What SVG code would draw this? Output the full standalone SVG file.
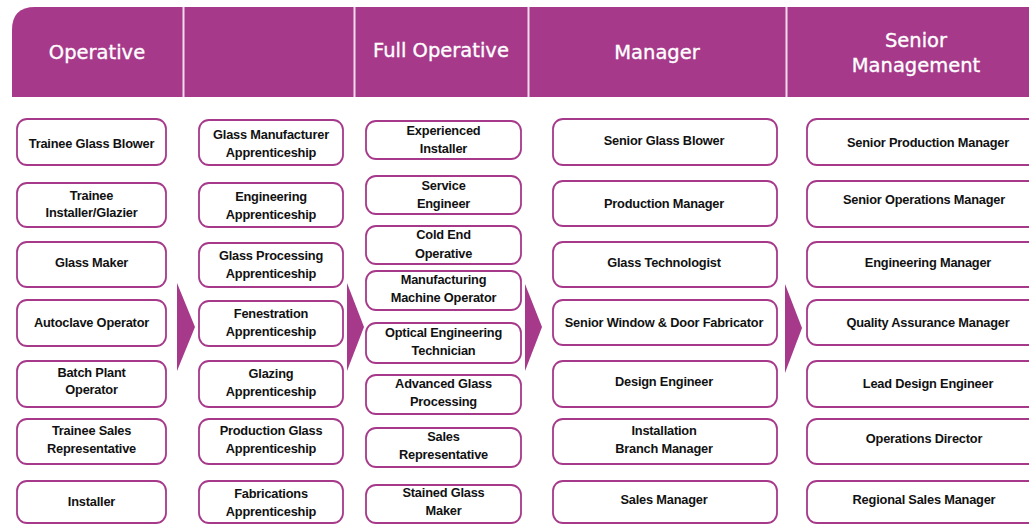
<svg xmlns="http://www.w3.org/2000/svg" width="1029" height="525" viewBox="0 0 1029 525">
<style>
.hd{fill:#a6398a}
.div{fill:#f3dcec}
.ht{font-family:"DejaVu Sans",sans-serif;font-size:19.5px;fill:#ffffff;text-anchor:middle;stroke:#ffffff;stroke-width:0.35}
.bx{fill:#ffffff;stroke:#a6398a;stroke-width:1.8}
.t{font-family:"Liberation Sans",Arial,sans-serif;font-weight:bold;font-size:12.8px;fill:#111111;text-anchor:middle;letter-spacing:-0.2px}
.ar{fill:#a6398a}
</style>
<rect width="1029" height="525" fill="#ffffff"/>
<g id="header">
<path class="hd" d="M12,30 Q12,7 35,7 L1050,7 L1050,97 L12,97 Z"/>
<rect class="div" x="182.5" y="7" width="2" height="90"/>
<rect class="div" x="353.5" y="7" width="2" height="90"/>
<rect class="div" x="527.5" y="7" width="2" height="90"/>
<rect class="div" x="785.5" y="7" width="2" height="90"/>
</g>
<g id="h-operative"><text class="ht" x="97" y="59">Operative</text></g>
<g id="h-blank"></g>
<g id="h-full-operative"><text class="ht" x="441" y="57">Full Operative</text></g>
<g id="h-manager"><text class="ht" x="657" y="59">Manager</text></g>
<g id="h-senior-management"><text class="ht" x="916" y="47">Senior</text><text class="ht" x="916" y="72">Management</text></g>

<g id="connectors">
<polygon class="ar" points="177,283 195,327 177,371"/>
<polygon class="ar" points="347,283 364,327 347,371"/>
<polygon class="ar" points="525,284 542,327 525,371"/>
<polygon class="ar" points="785,284 802,328 785,373"/>
</g>

<!-- Column 1 -->
<g id="c1-1"><rect class="bx" x="17" y="119" width="149" height="46" rx="10"/><text class="t" x="91.5" y="148">Trainee Glass Blower</text></g>
<g id="c1-2"><rect class="bx" x="17" y="183" width="149" height="44" rx="10"/><text class="t" x="91.5" y="200">Trainee</text><text class="t" x="91.5" y="217">Installer/Glazier</text></g>
<g id="c1-3"><rect class="bx" x="17" y="242" width="149" height="45" rx="10"/><text class="t" x="91.5" y="267">Glass Maker</text></g>
<g id="c1-4"><rect class="bx" x="17" y="300" width="149" height="46" rx="10"/><text class="t" x="91.5" y="327">Autoclave Operator</text></g>
<g id="c1-5"><rect class="bx" x="17" y="361" width="149" height="46" rx="10"/><text class="t" x="91.5" y="377">Batch Plant</text><text class="t" x="91.5" y="394">Operator</text></g>
<g id="c1-6"><rect class="bx" x="17" y="419" width="149" height="45" rx="10"/><text class="t" x="91.5" y="435">Trainee Sales</text><text class="t" x="91.5" y="453">Representative</text></g>
<g id="c1-7"><rect class="bx" x="17" y="481" width="149" height="42" rx="10"/><text class="t" x="91.5" y="506">Installer</text></g>

<!-- Column 2 -->
<g id="c2-1"><rect class="bx" x="199" y="120" width="144" height="45" rx="10"/><text class="t" x="271" y="139">Glass Manufacturer</text><text class="t" x="271" y="157">Apprenticeship</text></g>
<g id="c2-2"><rect class="bx" x="199" y="183" width="144" height="44" rx="10"/><text class="t" x="271" y="201">Engineering</text><text class="t" x="271" y="219">Apprenticeship</text></g>
<g id="c2-3"><rect class="bx" x="199" y="243" width="144" height="44" rx="10"/><text class="t" x="271" y="260">Glass Processing</text><text class="t" x="271" y="278">Apprenticeship</text></g>
<g id="c2-4"><rect class="bx" x="199" y="301" width="144" height="45" rx="10"/><text class="t" x="271" y="318">Fenestration</text><text class="t" x="271" y="336">Apprenticeship</text></g>
<g id="c2-5"><rect class="bx" x="199" y="361" width="144" height="46" rx="10"/><text class="t" x="271" y="378">Glazing</text><text class="t" x="271" y="396">Apprenticeship</text></g>
<g id="c2-6"><rect class="bx" x="199" y="419" width="144" height="45" rx="10"/><text class="t" x="271" y="435">Production Glass</text><text class="t" x="271" y="453">Apprenticeship</text></g>
<g id="c2-7"><rect class="bx" x="199" y="481" width="144" height="42" rx="10"/><text class="t" x="271" y="498">Fabrications</text><text class="t" x="271" y="516">Apprenticeship</text></g>

<!-- Column 3 -->
<g id="c3-1"><rect class="bx" x="366" y="121" width="155" height="38" rx="10"/><text class="t" x="443.5" y="135">Experienced</text><text class="t" x="443.5" y="153">Installer</text></g>
<g id="c3-2"><rect class="bx" x="366" y="176" width="155" height="38" rx="10"/><text class="t" x="443.5" y="190">Service</text><text class="t" x="443.5" y="208">Engineer</text></g>
<g id="c3-3"><rect class="bx" x="366" y="226" width="155" height="38" rx="10"/><text class="t" x="443.5" y="239">Cold End</text><text class="t" x="443.5" y="258">Operative</text></g>
<g id="c3-4"><rect class="bx" x="366" y="271" width="155" height="39" rx="10"/><text class="t" x="443.5" y="284">Manufacturing</text><text class="t" x="443.5" y="302">Machine Operator</text></g>
<g id="c3-5"><rect class="bx" x="366" y="323" width="155" height="40" rx="10"/><text class="t" x="443.5" y="337">Optical Engineering</text><text class="t" x="443.5" y="355">Technician</text></g>
<g id="c3-6"><rect class="bx" x="366" y="375" width="155" height="39" rx="10"/><text class="t" x="443.5" y="388">Advanced Glass</text><text class="t" x="443.5" y="406">Processing</text></g>
<g id="c3-7"><rect class="bx" x="366" y="428" width="155" height="39" rx="10"/><text class="t" x="443.5" y="441">Sales</text><text class="t" x="443.5" y="459">Representative</text></g>
<g id="c3-8"><rect class="bx" x="366" y="485" width="155" height="38" rx="10"/><text class="t" x="443.5" y="497">Stained Glass</text><text class="t" x="443.5" y="515">Maker</text></g>

<!-- Column 4 -->
<g id="c4-1"><rect class="bx" x="553" y="119" width="224" height="46" rx="10"/><text class="t" x="664" y="145">Senior Glass Blower</text></g>
<g id="c4-2"><rect class="bx" x="553" y="181" width="224" height="45" rx="10"/><text class="t" x="664" y="208">Production Manager</text></g>
<g id="c4-3"><rect class="bx" x="553" y="242" width="224" height="45" rx="10"/><text class="t" x="664" y="267">Glass Technologist</text></g>
<g id="c4-4"><rect class="bx" x="553" y="300" width="224" height="45" rx="10"/><text class="t" x="664" y="327">Senior Window &amp; Door Fabricator</text></g>
<g id="c4-5"><rect class="bx" x="553" y="361" width="224" height="46" rx="10"/><text class="t" x="664" y="386">Design Engineer</text></g>
<g id="c4-6"><rect class="bx" x="553" y="419" width="224" height="45" rx="10"/><text class="t" x="664" y="435">Installation</text><text class="t" x="664" y="453">Branch Manager</text></g>
<g id="c4-7"><rect class="bx" x="553" y="481" width="224" height="42" rx="10"/><text class="t" x="664" y="504">Sales Manager</text></g>

<!-- Column 5 -->
<g id="c5-1"><rect class="bx" x="807" y="119" width="245" height="46" rx="10"/><text class="t" x="928" y="147">Senior Production Manager</text></g>
<g id="c5-2"><rect class="bx" x="807" y="181" width="245" height="46" rx="10"/><text class="t" x="924" y="204">Senior Operations Manager</text></g>
<g id="c5-3"><rect class="bx" x="807" y="242" width="245" height="45" rx="10"/><text class="t" x="928" y="267">Engineering Manager</text></g>
<g id="c5-4"><rect class="bx" x="807" y="300" width="245" height="45" rx="10"/><text class="t" x="928" y="327">Quality Assurance Manager</text></g>
<g id="c5-5"><rect class="bx" x="807" y="361" width="245" height="46" rx="10"/><text class="t" x="928" y="388">Lead Design Engineer</text></g>
<g id="c5-6"><rect class="bx" x="807" y="419" width="245" height="45" rx="10"/><text class="t" x="924" y="443">Operations Director</text></g>
<g id="c5-7"><rect class="bx" x="807" y="481" width="245" height="42" rx="10"/><text class="t" x="924" y="504">Regional Sales Manager</text></g>
</svg>
